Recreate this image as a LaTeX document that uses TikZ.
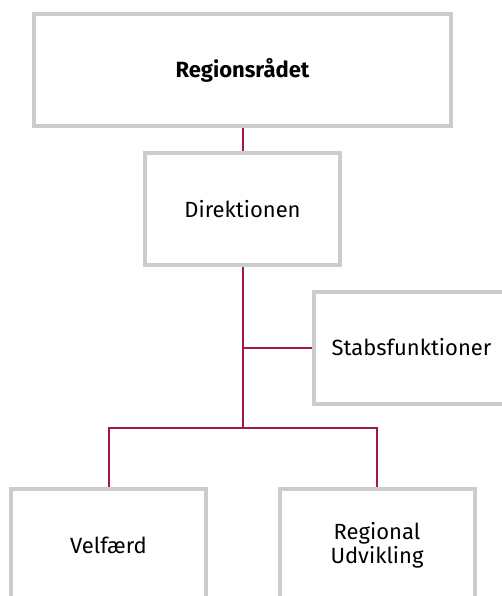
\documentclass[tikz,border=0pt]{standalone}
\usepackage{fontspec}
\setmainfont{Fira Sans}
\usetikzlibrary{positioning}
\definecolor{boxgray}{RGB}{204,204,204}
\definecolor{linkred}{RGB}{166,22,72}

\tikzset{
  unit/.style={draw=boxgray, line width=2pt, fill=white, minimum width=97.5pt,
    minimum height=56pt, align=center, font=\fontsize{11}{12}\selectfont},
  link/.style={draw=linkred, line width=1pt}
}

\begin{document}
\begin{tikzpicture}[x=0.5pt, y=-0.5pt, on grid]
      \clip (0,0) rectangle (502,596);
      \useasboundingbox (0,0) rectangle (502,596);
      \node[unit, minimum width=208.5pt, font=\fontsize{11}{12}\selectfont\bfseries] (raad) at (242.5,70) {Regionsrådet};
      \node[unit, below=69.5pt of raad] (dir) {Direktionen};
      \node[unit, below right=69.25pt and 84.5pt of dir] (stab) {Stabsfunktioner};
      \node[unit, below left=168pt and 67pt of dir] (velf) {Velfærd};
      \node[unit, below right=168pt and 67.25pt of dir] (regu) {Regional\\Udvikling};
      \coordinate (bus) at (242.5,428);
      \path[link] (raad) -- (dir)
            (dir) -- (bus)
            (dir.south |- stab.west) -- (stab.west)
            (bus) -| (velf.north)
            (bus) -| (regu.north);
    \end{tikzpicture}
\end{document}
